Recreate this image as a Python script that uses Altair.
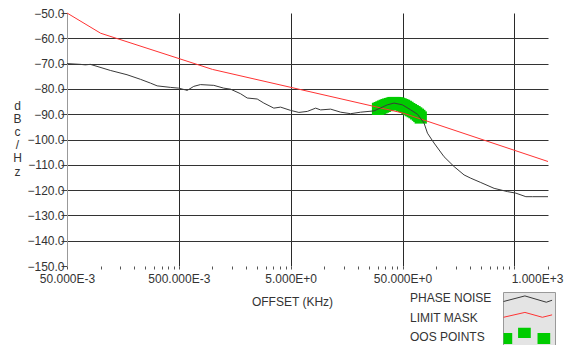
import altair as alt
import pandas as pd

# ---------------- data ----------------
pn_freq = [0.05, 0.0658, 0.0729, 0.0808, 0.0928, 0.122, 0.172, 0.2265, 0.2785, 0.320,
           0.4205, 0.499, 0.573, 0.594, 0.680, 0.780, 1.027, 1.261, 1.449, 1.780,
           2.044, 2.512, 2.877, 3.536, 4.06, 4.99, 5.92, 7.04, 8.36, 9.26,
           11.38, 14.0, 17.18, 21.1, 27.8, 31.9, 36.6, 42.0, 49.9, 59.2,
           68.0, 77.9, 83.6, 95.7, 117.6, 144.6, 177.6, 204.0, 250.6, 329.6,
           434.5, 515.7, 633.8, 727.8, 1000.0]
pn_dbc = [-70.0, -70.3, -70.5, -70.3, -71.1, -72.7, -74.4, -76.2, -77.7, -78.8,
          -79.4, -79.7, -80.4, -80.6, -79.0, -78.3, -78.6, -79.7, -80.1, -81.9,
          -83.6, -84.0, -85.6, -87.6, -87.2, -88.5, -89.3, -88.9, -87.6, -88.3,
          -88.0, -89.2, -89.8, -89.2, -88.7, -87.5, -86.3, -85.6, -86.3, -88.3,
          -90.0, -93.5, -97.5, -101.4, -106.8, -110.7, -114.0, -115.3, -117.0, -119.3,
          -120.6, -121.2, -122.6, -122.6, -122.6]

mask_freq = [0.05, 0.1, 1.0, 50.0, 1000.0]
mask_dbc = [-50.0, -58.0, -72.3, -89.5, -108.7]

oos_freq = [30.2, 31.3, 32.4, 33.5, 34.7, 36.0, 37.3, 38.7, 40.1, 41.5, 43.1, 44.7,
            46.3, 48.0, 49.8, 51.6, 53.5, 55.4, 57.4, 59.5, 61.7, 64.0, 66.3, 68.7,
            70.7, 72.8]
oos_dbc = [-87.9, -87.6, -87.3, -87.0, -86.7, -86.4, -86.2, -86.0, -85.8, -85.6, -85.6, -85.7,
           -85.9, -86.1, -86.4, -86.7, -87.1, -87.5, -88.0, -88.4, -88.8, -89.2, -89.7, -90.2,
           -90.7, -91.3]

x_major = [0.05, 0.5, 5, 50, 1000]
x_major_labels = ["50.000E-3", "500.000E-3", "5.000E+0", "50.000E+0", "1.000E+3"]
x_grid = [0.5, 5, 50, 500]
decade_bases = [0.05, 0.5, 5, 50, 500]
y_ticks = [-50, -60, -70, -80, -90, -100, -110, -120, -130, -140, -150]

legend_names = ["PHASE NOISE", "LIMIT MASK", "OOS POINTS"]
legend_paths = [
    "M-1,0L1.38,-0.62L3.76,0.08L4.4,-0.14",
    "M-1,-0.08L1.38,-0.62L3.32,-0.08L4.4,-0.35",
    "M-1,-0.6H-0.03V0.6H-1Z M0.62,-1.2H2.03V-0.05H0.62Z M2.78,-0.6H4.19V0.6H2.78Z",
]
legend_fills = ["transparent", "transparent", "#00cc00"]
legend_strokes = ["#3a3a3a", "#ff3333", "transparent"]

# ---------------- build ----------------
FONT = "Liberation Sans"

x_ticks = sorted(set([round(b * k, 6) for b in decade_bases for k in range(1, 10) if b * k <= 1000] + [1000]))
label_expr = " : ".join(f"datum.value == {v} ? '{t}'" for v, t in zip(x_major, x_major_labels)) + " : ''"
grid_test = "indexof([" + ",".join(str(v) for v in x_grid) + "], datum.value) >= 0"

x_scale = alt.Scale(type="log", domain=[0.05, 1000], nice=False)
y_scale = alt.Scale(domain=[-150, -50], nice=False, zero=False)

x_axis = alt.Axis(
    values=x_ticks, labelExpr=label_expr, labelOverlap=False, labelFlush=False,
    grid=True, gridColor="#2a2a2a", gridWidth=1,
    gridOpacity={"condition": {"test": grid_test, "value": 1}, "value": 0},
    labelOffset={"condition": {"test": "datum.value == 1000", "value": -11}, "value": 0},
    tickSize=3, tickColor="#555", domain=False,
    labelFont=FONT, labelFontSize=12, labelColor="#333", labelPadding=4,
    title="OFFSET (KHz)", titleFont=FONT, titleFontSize=12, titleFontWeight="normal",
    titleColor="#333", titleX=225, titleY=35, titleAlign="center", titleBaseline="middle",
)
y_axis = alt.Axis(
    values=y_ticks, format=".1f", grid=True, gridColor="#333", gridWidth=1,
    gridOpacity={"condition": {"test": "datum.value > -150 && datum.value < -50", "value": 1}, "value": 0},
    tickSize=6, tickColor="#444", labelPadding=-3,
    labelFont=FONT, labelFontSize=12, labelColor="#333",
    domain=True, domainColor="#999", domainWidth=1,
    title=["d", "B", "c", "/", "H", "z"], titleAngle=0, titleX=-50, titleY=87,
    titleAlign="center", titleBaseline="top", titleFont=FONT, titleFontSize=12,
    titleFontWeight="normal", titleColor="#333", titleLineHeight=13.2,
)

pn_df = pd.DataFrame({"f": pn_freq, "v": pn_dbc})
mask_df = pd.DataFrame({"f": mask_freq, "v": mask_dbc})
oos_df = pd.DataFrame({"f": oos_freq, "v": oos_dbc})
leg_df = pd.DataFrame({"series": legend_names, "label": legend_names})

X = alt.X("f:Q", scale=x_scale, axis=x_axis)
Y = alt.Y("v:Q", scale=y_scale, axis=y_axis)

oos = alt.Chart(oos_df).mark_square(size=150, color="#00cc00", opacity=1).encode(x=X, y=Y)
mask = alt.Chart(mask_df).mark_line(color="#ff3333", strokeWidth=1).encode(x=X, y=Y)
pn = alt.Chart(pn_df).mark_line(color="#3a3a3a", strokeWidth=1).encode(x=X, y=Y)

sym_legend = alt.Legend(
    title=None, orient="none", legendX=436, legendY=279, direction="vertical",
    symbolSize=324, symbolStrokeWidth=1, symbolOpacity=1,
    fillColor="#e4e4e4", strokeColor="#999", padding=0, rowPadding=1.5,
    labelExpr="''", labelOffset=0,
)
sym_layer = alt.Chart(leg_df).mark_point(filled=True, opacity=0).encode(
    shape=alt.Shape("series:N", scale=alt.Scale(domain=legend_names, range=legend_paths), legend=sym_legend),
    fill=alt.Fill("series:N", scale=alt.Scale(domain=legend_names, range=legend_fills), legend=sym_legend),
    stroke=alt.Stroke("series:N", scale=alt.Scale(domain=legend_names, range=legend_strokes), legend=sym_legend),
)

lab_legend = alt.Legend(
    title=None, orient="none", legendX=331, legendY=279, direction="vertical",
    symbolSize=4, symbolOpacity=0, labelFont=FONT, labelFontSize=12, labelColor="#333",
    rowPadding=7.5, labelOffset=0, padding=0,
)
lab_layer = alt.Chart(leg_df).mark_point(opacity=0).encode(
    color=alt.Color("label:N", sort=legend_names, legend=lab_legend)
)

chart = alt.layer(oos, mask, pn, sym_layer, lab_layer).properties(
    width=481, height=253,
    padding={"left": 59, "top": 5, "right": 17, "bottom": 79},
    autosize=alt.AutoSizeParams(type="none"),
).configure_view(fill="#e4e4e4", stroke="transparent")

chart.save("out.html", embed_options={"renderer": "svg", "actions": False})
